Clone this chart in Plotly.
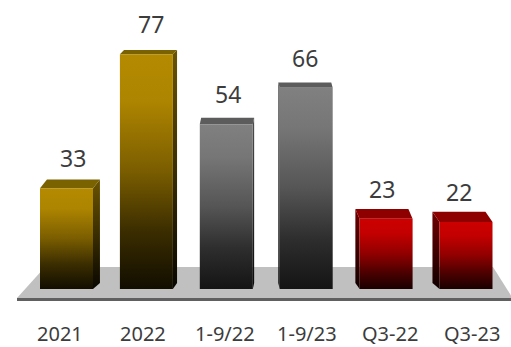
import plotly.graph_objects as go

# ---- data ----
categories = ["2021", "2022", "1-9/22", "1-9/23", "Q3-22", "Q3-23"]
values = [33, 77, 54, 66, 23, 22]
series_group = ["gold", "gold", "gray", "gray", "red", "red"]

# ---- styles ----
PALETTE = {
    "gold": dict(front=[[0, "#110d00"], [0.25, "#3c2e00"], [0.5, "#7a5d00"], [0.8, "#ae8500"], [1, "#b38a00"]],
                 side=[[0, "#080600"], [0.5, "#3a2d00"], [1, "#6a5300"]], top="#7a6200"),
    "gray": dict(front=[[0, "#141414"], [0.25, "#2e2e2e"], [0.5, "#555555"], [0.8, "#767676"], [1, "#808080"]],
                 side=[[0, "#080808"], [0.5, "#2a2a2a"], [1, "#4e4e4e"]], top="#5c5c5c"),
    "red": dict(front=[[0, "#1a0000"], [0.25, "#500000"], [0.5, "#900000"], [0.8, "#c40000"], [1, "#cc0000"]],
                side=[[0, "#100000"], [0.5, "#400000"], [1, "#700000"]], top="#8e0000"),
}
PX_X = 79.9      # px per x unit
PX_Y = 3.05      # px per value unit
BAR_W = 53 / PX_X
TEXT = "#3c3c3c"
FONT = "Noto Sans"

fig = go.Figure()


def poly(xs, ys, color=None, grad=None):
    kw = dict(x=xs + [xs[0]], y=ys + [ys[0]], mode="lines", fill="toself",
              line=dict(width=0), hoverinfo="skip", showlegend=False)
    if grad is not None:
        kw["fillgradient"] = dict(type="vertical", colorscale=grad)
        kw["fillcolor"] = grad[-1][1]
    else:
        kw["fillcolor"] = color
    fig.add_trace(go.Scatter(**kw))


# floor
fl_back, fl_front, fl_bottom = 22 / PX_Y, -9 / PX_Y, -12 / PX_Y
fl_bl, fl_br = -21.5 / PX_X, 426.5 / PX_X
fl_fl, fl_fr = -49.5 / PX_X, 446 / PX_X
poly([fl_bl, fl_br, fl_fr, fl_fl], [fl_back, fl_back, fl_front, fl_front], color="#c0c0c0")
poly([fl_fl, fl_fr, fl_fr, fl_fl], [fl_front, fl_front, fl_bottom, fl_bottom], color="#606060")

for i, (cat, v, g) in enumerate(zip(categories, values, series_group)):
    pal = PALETTE[g]
    xl, xr = i - BAR_W / 2, i + BAR_W / 2
    dx = -0.035 * (i - 2.484)                 # perspective offset (x units)
    dyt = (4.096 - 0.036 * v)                 # top-face depth (value units)
    dyb = 6 / PX_Y
    # side face
    if dx > 0:
        poly([xr, xr + dx, xr + dx, xr], [0, dyb, v + dyt, v], grad=pal["side"])
    elif dx < 0:
        poly([xl, xl + dx, xl + dx, xl], [0, dyb, v + dyt, v], grad=pal["side"])
    # top face
    poly([xl, xr, xr + dx, xl + dx], [v, v, v + dyt, v + dyt], color=pal["top"])
    # front face
    poly([xl, xr, xr, xl], [0, 0, v, v], grad=pal["front"])
    # value label
    fig.add_annotation(x=i + dx, y=v, text=str(v), showarrow=False, yshift=30,
                       xanchor="center", yanchor="middle", borderpad=0,
                       font=dict(family=FONT, size=23, color=TEXT))
    # category label
    fig.add_annotation(x=2.5 + (i - 2.5) * 1.031, y=-44 / PX_Y, text=cat, showarrow=False,
                       xanchor="center", yanchor="middle", borderpad=0,
                       font=dict(family=FONT, size=20, color=TEXT))

fig.update_layout(
    width=511, height=347, margin=dict(l=0, r=0, t=0, b=0),
    paper_bgcolor="white", plot_bgcolor="white",
    xaxis=dict(range=[-66.5 / PX_X, (511 - 66.5) / PX_X], visible=False, fixedrange=True),
    yaxis=dict(range=[-58 / PX_Y, 289 / PX_Y], visible=False, fixedrange=True),
)

fig.write_html("out.html")
